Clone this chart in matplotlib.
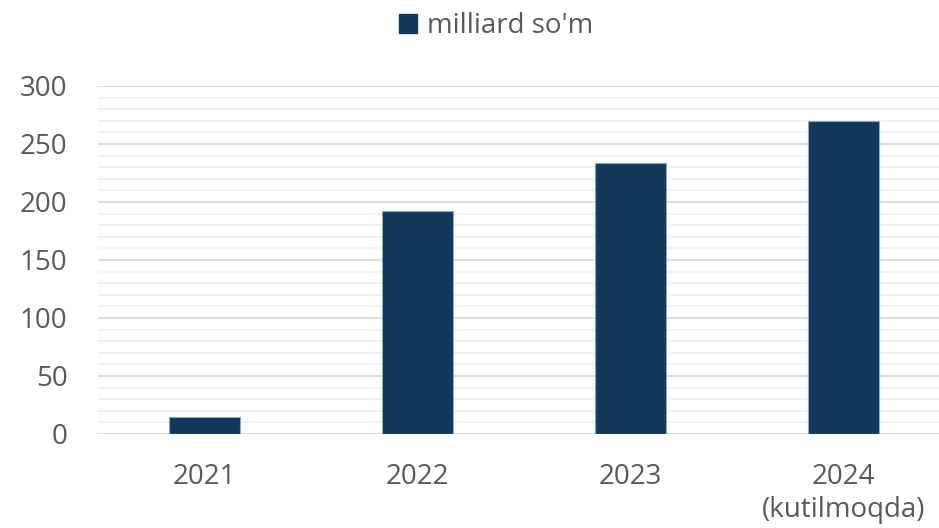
import matplotlib
matplotlib.use("Agg")
import matplotlib.pyplot as plt
from matplotlib.ticker import MultipleLocator
from matplotlib.patches import Patch

years = ["2021", "2022", "2023", "2024\n(kutilmoqda)"]
values = [15, 192, 234, 270]
series_name = "milliard so'm"

plt.rcParams['font.family'] = ['Open Sans', 'DejaVu Sans']

fig = plt.figure(figsize=(9.39, 5.28), dpi=100)
# plot area runs past the right edge of the picture, as in the reference
ax = fig.add_axes([98 / 939, 1 - 434 / 528, 852 / 939, 348 / 528])

x = list(range(len(years)))
ax.bar(x, values, width=1 / 3, color="#13375a", edgecolor="#8da5c0", linewidth=0.8, zorder=3)

ax.set_xlim(-0.5, len(years) - 0.5)
ax.set_ylim(0, 300)
ax.yaxis.set_major_locator(MultipleLocator(50))
ax.yaxis.set_minor_locator(MultipleLocator(10))
ax.grid(axis='y', which='major', color="#d9d9d9", linewidth=1.3, zorder=0)
ax.grid(axis='y', which='minor', color="#f0f0f0", linewidth=1.3, zorder=0)
ax.set_axisbelow(True)

for s in ax.spines.values():
    s.set_visible(False)
ax.tick_params(axis='both', which='both', length=0, labelsize=20, colors="#595959")
ax.tick_params(axis='y', pad=22)
ax.tick_params(axis='x', pad=21)
ax.set_xticks(x)
ax.set_xticklabels(years, linespacing=1.24)

handles = [Patch(facecolor="#13375a", edgecolor="#13375a", label=series_name)]
fig.legend(handles=handles, loc='center', bbox_to_anchor=(496 / 939, 1 - 26 / 528),
           frameon=False, fontsize=20, handlelength=0.65, handleheight=0.65,
           handletextpad=0.35, labelcolor="#595959", borderpad=0)

fig.savefig("out.png", dpi=100)
